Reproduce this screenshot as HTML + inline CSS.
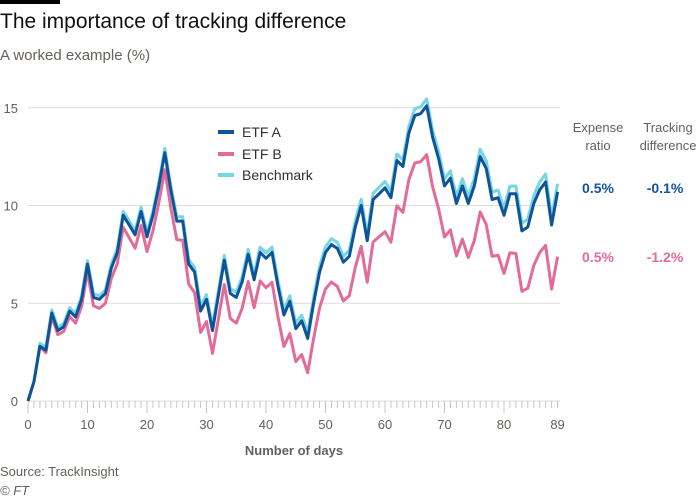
<!DOCTYPE html>
<html><head><meta charset="utf-8"><style>
body{margin:0;width:700px;height:500px;background:#fff;font-family:"Liberation Sans",sans-serif;overflow:hidden;position:relative}
.t{position:absolute;white-space:nowrap}
</style></head><body>
<div style="position:absolute;left:0;top:0;width:60px;height:4px;background:#000"></div>
<div class="t" style="left:0;top:10px;font-size:21px;color:#111">The importance of tracking difference</div>
<div class="t" style="left:0;top:47px;font-size:15px;color:#66605c">A worked example (%)</div>
<svg id="s" width="700" height="500" style="position:absolute;left:0;top:0"></svg>
<div class="t" style="left:0;top:464px;font-size:13px;color:#66605c">Source: TrackInsight</div>
<div class="t" style="left:0;top:483px;font-size:13px;color:#66605c;font-style:italic">© FT</div>
<script>
var A=[0,1.0,2.8,2.6,4.5,3.6,3.8,4.6,4.3,5.2,7.0,5.3,5.2,5.5,6.8,7.6,9.5,9.0,8.5,9.7,8.4,9.5,11.0,12.7,10.8,9.2,9.2,7.0,6.6,4.6,5.2,3.6,5.4,7.2,5.5,5.3,6.1,7.5,6.2,7.6,7.3,7.6,5.9,4.4,5.1,3.7,4.1,3.2,5.0,6.6,7.6,8.0,7.8,7.1,7.4,8.9,10.0,8.2,10.3,10.6,10.9,10.4,12.3,12.0,13.7,14.6,14.7,15.1,13.5,12.4,11.0,11.4,10.1,11.0,10.1,11.0,12.5,11.9,10.3,10.4,9.5,10.6,10.6,8.7,8.9,10.1,10.8,11.2,9.0,10.7];
var X=function(i){return 28+i*5.95},Y=function(v){return 401-v*19.55};
var s='';
[0,5,10,15].forEach(function(v){var y=Y(v);s+='<line x1="28" x2="560" y1="'+y+'" y2="'+y+'" stroke="#e0dcd8" stroke-width="1"/>';s+='<text x="18" y="'+(y+5)+'" text-anchor="end" font-size="13" fill="#66605c">'+v+'</text>';});
for(var i=0;i<=89;i++){var big=i%10==0;s+='<line x1="'+X(i)+'" x2="'+X(i)+'" y1="401" y2="'+(big?413:408)+'" stroke="#c8c4c0" stroke-width="1"/>';}
[0,10,20,30,40,50,60,70,80,89].forEach(function(d){s+='<text x="'+X(d)+'" y="429" text-anchor="middle" font-size="13" fill="#66605c">'+d+'</text>';});
s+='<text x="294" y="455" text-anchor="middle" font-size="13" font-weight="bold" fill="#66605c">Number of days</text>';
function pl(f,c){var p=[];for(var i=0;i<90;i++)p.push(X(i).toFixed(1)+','+Y(f(i)).toFixed(1));return '<polyline points="'+p.join(' ')+'" fill="none" stroke="'+c+'" stroke-width="3" stroke-linejoin="round"/>';}
s+=pl(function(i){return A[i]-(i<3?0:0.02+i*0.037)},'#e36b9a');
s+=pl(function(i){return A[i]+(i<2?0:0.15+i*0.003)},'#76d6e2');
s+=pl(function(i){return A[i]},'#0f5499');
var L=[['ETF A','#0f5499',137],['ETF B','#e36b9a',159],['Benchmark','#76d6e2',180]];
L.forEach(function(l){s+='<line x1="218" x2="234" y1="'+(l[2]-5)+'" y2="'+(l[2]-5)+'" stroke="'+l[1]+'" stroke-width="4"/><text x="242" y="'+l[2]+'" font-size="14" fill="#33302e">'+l[0]+'</text>';});
s+='<text x="598" y="132" text-anchor="middle" font-size="13" fill="#66605c">Expense</text><text x="598" y="150" text-anchor="middle" font-size="13" fill="#66605c">ratio</text>';
s+='<text x="668" y="132" text-anchor="middle" font-size="13" fill="#66605c">Tracking</text><text x="668" y="150" text-anchor="middle" font-size="13" fill="#66605c">difference</text>';
s+='<text x="598" y="193" text-anchor="middle" font-size="14" font-weight="bold" fill="#0f5499">0.5%</text><text x="665" y="193" text-anchor="middle" font-size="14" font-weight="bold" fill="#0f5499">-0.1%</text>';
s+='<text x="598" y="262" text-anchor="middle" font-size="14" font-weight="bold" fill="#e36b9a">0.5%</text><text x="665" y="262" text-anchor="middle" font-size="14" font-weight="bold" fill="#e36b9a">-1.2%</text>';
document.getElementById('s').innerHTML=s;
</script>
</body></html>
